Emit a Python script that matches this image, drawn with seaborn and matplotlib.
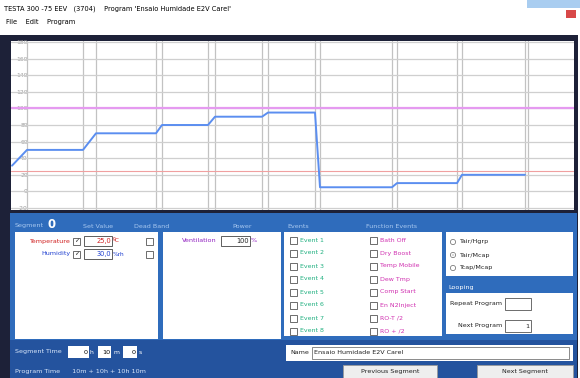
import matplotlib
matplotlib.use("Agg")
import matplotlib.pyplot as plt
import seaborn as sns
import pandas as pd
from matplotlib.patches import Rectangle, Circle

# ---- data (time in hours, setpoint profile) ----
time_h = [0.0, 1.5, 7.1, 8.4, 14.4, 15.0, 19.6, 20.3, 25.0, 25.6,
          30.3, 30.8, 38.0, 38.5, 44.5, 45.0, 51.3]
setpoint = [31, 50, 50, 70, 70, 80, 80, 90, 90, 95,
            95, 5, 5, 10, 10, 20, 20]
y_ticks = [-20, 0, 20, 40, 60, 80, 100, 120, 140, 160, 180]
temp_limit = 25
hum_limit = 100

event_labels = ["Event 1", "Event 2", "Event 3", "Event 4",
                "Event 5", "Event 6", "Event 7", "Event 8"]
function_labels = ["Bath Off", "Dry Boost", "Temp Mobile", "Dew Tmp",
                   "Comp Start", "En N2Inject", "RO-T /2", "RO + /2"]
mode_labels = ["Tair/Hgrp", "Tair/Mcap", "Tcap/Mcap"]

sns.set_style("white")
plt.rcParams['font.family'] = ['DejaVu Sans']

W, H = 580, 378
fig = plt.figure(figsize=(5.8, 3.78), dpi=100)
bg = fig.add_axes([0, 0, 1, 1])
bg.set_xlim(0, W)
bg.set_ylim(H, 0)
bg.axis("off")

def rect(x0, y0, x1, y1, fc, ec="none", lw=0.8, z=1):
    bg.add_patch(Rectangle((x0, y0), x1 - x0, y1 - y0, facecolor=fc,
                           edgecolor=ec, linewidth=lw, zorder=z))

def txt(x, y, s, size=4.6, color="black", ha="left", weight="normal", z=5):
    bg.text(x, y, s, fontsize=size, color=color, ha=ha, va="center",
            fontweight=weight, zorder=z)

def checkbox(x, y, checked=False):
    rect(x, y - 3.5, x + 7, y + 3.5, "white", ec="#555555", lw=0.6, z=4)
    if checked:
        txt(x + 3.5, y, "✓", size=4.5, ha="center", color="#222222")

# title bar & menu
rect(0, 0, W, 37, "white")
rect(527, 0, 580, 8, "#a9cdf0", z=2)
rect(566, 10, 576, 18, "#d84848", z=2)
txt(4, 9, "TESTA 300 -75 EEV   (3704)    Program 'Ensaio Humidade E2V Carel'", size=4.8)
txt(6, 22, "File    Edit    Program", size=4.8)

# dark frames
rect(0, 35, 578, H, "#1d2138")
rect(10, 213, 577, H, "#2f6cbc")
rect(10, 340, 577, H, "#24539e")

# chart axes (pixel area x 11..574, y 41..210)
ax = fig.add_axes([11 / W, 1 - 210 / H, (574 - 11) / W, (210 - 41) / H])
ax.set_facecolor("white")
df = pd.DataFrame({"time": time_h, "setpoint": setpoint})
for t in time_h[1:]:
    ax.axvline(t, color="#c2c2c2", lw=0.9, zorder=1)
ax.axvline(51.6, color="#c2c2c2", lw=0.9, zorder=1)
for v in y_ticks:
    ax.axhline(v, color="#cfcfcf", lw=0.9, zorder=1)
ax.axhline(hum_limit, color="#e59af0", lw=1.6, zorder=2)
ax.axhline(temp_limit, color="#f0a0a0", lw=0.8, zorder=2)
sns.lineplot(data=df, x="time", y="setpoint", ax=ax, sort=False,
             estimator=None, color="#5b8ef0", lw=1.4, zorder=3)
ax.set_xlim(-0.1, 56.2)
ax.set_ylim(-22.4, 181.2)
ax.set_xticks([])
ax.set_yticks(y_ticks)
ax.set_yticklabels([str(v) for v in y_ticks])
ax.tick_params(axis="y", direction="in", length=0, pad=-12,
               labelsize=4.3, labelcolor="#9a9a9a")
for lab in ax.get_yticklabels():
    lab.set_horizontalalignment("right")
ax.set_xlabel("")
ax.set_ylabel("")
for s in ax.spines.values():
    s.set_visible(False)

# header row of panel
hc = "#a8c8f0"
txt(15, 226, "Segment", size=4.6, color=hc)
txt(47, 225, "0", size=8.5, color="white", weight="bold")
txt(83, 226, "Set Value", size=4.6, color=hc)
txt(134, 226, "Dead Band", size=4.6, color=hc)
txt(232, 226, "Power", size=4.6, color=hc)
txt(287, 226, "Events", size=4.6, color=hc)
txt(366, 226, "Function Events", size=4.6, color=hc)

# white boxes
rect(15, 232, 158, 339, "white", z=2)
rect(163, 232, 281, 339, "white", z=2)
rect(284, 232, 442, 336, "white", z=2)
rect(446, 232, 573, 276, "white", z=2)
rect(446, 293, 573, 334, "white", z=2)
txt(448, 287, "Looping", size=4.6, color="white")

# set values
txt(70, 241, "Temperature", size=4.6, color="#d02020", ha="right")
checkbox(73, 241, True)
rect(84, 236, 112, 246, "white", ec="#444444", lw=0.6, z=3)
txt(111, 241, "25,0", size=4.8, color="#d02020", ha="right")
txt(113, 241, "ºC", size=4.2, color="#d02020")
checkbox(146, 241)
txt(70, 254, "Humidity", size=4.6, color="#2040d0", ha="right")
checkbox(73, 254, True)
rect(84, 249, 112, 259, "white", ec="#444444", lw=0.6, z=3)
txt(111, 254, "30,0", size=4.8, color="#2040d0", ha="right")
txt(113, 254, "%rh", size=4.2, color="#2040d0")
checkbox(146, 254)

txt(217, 241, "Ventilation", size=4.6, color="#9020c0", ha="right")
rect(221, 236, 250, 246, "white", ec="#444444", lw=0.6, z=3)
txt(249, 241, "100", size=4.8, color="#222222", ha="right")
txt(251, 241, "%", size=4.6, color="#9020c0")

# events
for i, (e, f) in enumerate(zip(event_labels, function_labels)):
    y = 240 + i * 13
    checkbox(290, y)
    txt(300, y, e, size=4.5, color="#20b080")
    checkbox(370, y)
    txt(380, y, f, size=4.5, color="#d030b0")

# mode radio
for i, m in enumerate(mode_labels):
    y = 242 + i * 13
    bg.add_patch(Circle((453, y), 2.6, facecolor="white", edgecolor="#666666",
                        lw=0.5, zorder=4))
    if i == 1:
        bg.add_patch(Circle((453, y), 1.2, facecolor="#222222", zorder=5))
    txt(459, y, m, size=4.6, color="#222222")

# looping
txt(502, 304, "Repeat Program", size=4.6, color="#222222", ha="right")
rect(505, 298, 531, 310, "white", ec="#555555", lw=0.6, z=3)
txt(502, 326, "Next Program", size=4.6, color="#222222", ha="right")
rect(505, 320, 531, 332, "white", ec="#555555", lw=0.6, z=3)
txt(529, 326, "1", size=4.6, color="#222222", ha="right")

# name
rect(286, 345, 573, 361, "white", z=2)
txt(290, 353, "Name", size=4.6, color="#222222")
rect(312, 347, 569, 359, "white", ec="#777777", lw=0.6, z=3)
txt(314, 353, "Ensaio Humidade E2V Carel", size=4.6, color="#222222")

# buttons
rect(343, 365, 437, 379, "#eeeeee", ec="#999999", lw=0.6, z=2)
txt(390, 372, "Previous Segment", size=4.6, color="#222222", ha="center")
rect(477, 365, 573, 379, "#eeeeee", ec="#999999", lw=0.6, z=2)
txt(525, 372, "Next Segment", size=4.6, color="#222222", ha="center")

# segment time
txt(15, 352, "Segment Time", size=4.6, color="#d8e6fa")
rect(68, 346, 89, 358, "white", z=3)
txt(88, 352, "0", size=4.6, ha="right")
txt(90, 352, "h", size=4.4, color="white")
rect(98, 346, 111, 358, "white", z=3)
txt(110, 352, "10", size=4.6, ha="right")
txt(113, 352, "m", size=4.4, color="white")
rect(123, 346, 137, 358, "white", z=3)
txt(136, 352, "0", size=4.6, ha="right")
txt(139, 352, "s", size=4.4, color="white")
txt(15, 372, "Program Time      10m + 10h + 10h 10m", size=4.6, color="#d8e6fa")

fig.savefig("out.png", dpi=100)
